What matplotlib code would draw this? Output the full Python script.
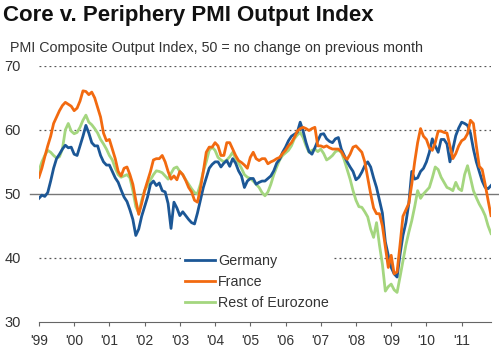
import numpy as np
import matplotlib
matplotlib.use("Agg")
import matplotlib.pyplot as plt

plt.rcParams['font.family'] = ['Liberation Sans', 'DejaVu Sans']

# monthly readings, Jan 1999 .. Nov 2011
germany = [
    49.3, 49.8, 49.6, 50.2, 52.0, 54.0, 55.5, 56.2, 57.0, 57.6, 57.2, 57.3,   # 1999
    56.2, 56.0, 57.5, 59.0, 60.7, 59.5, 58.0, 57.5, 57.5, 56.0, 55.0, 54.5,   # 2000
    54.5, 53.5, 52.5, 51.8, 50.6, 49.5, 48.8, 47.5, 46.0, 43.5, 44.5, 46.5,   # 2001
    48.0, 49.5, 51.5, 52.0, 51.3, 51.7, 50.5, 50.3, 48.5, 44.6, 48.7, 47.8,   # 2002
    46.6, 47.2, 46.6, 46.0, 45.5, 45.3, 47.0, 49.0, 51.0, 52.5, 54.0, 54.6,   # 2003
    55.0, 55.0, 54.2, 54.8, 55.2, 54.3, 55.5, 54.8, 53.6, 52.8, 51.0, 52.0,   # 2004
    52.4, 52.4, 51.5, 51.8, 52.0, 52.0, 52.4, 52.8, 53.6, 54.8, 55.4, 56.5,   # 2005
    57.3, 58.3, 59.0, 59.3, 59.6, 61.2, 59.8, 58.0, 56.6, 56.2, 57.2, 58.3,   # 2006
    59.3, 59.4, 58.6, 58.2, 58.0, 58.6, 58.8, 57.0, 56.0, 55.0, 54.2, 53.5,   # 2007
    52.2, 52.6, 53.4, 54.4, 55.0, 54.2, 52.5, 51.0, 49.0, 47.0, 42.5, 40.4,   # 2008
    38.5, 37.5, 37.0, 40.5, 43.5, 45.5, 48.5, 53.5, 52.3, 52.5, 53.5, 54.0,   # 2009
    55.0, 56.5, 58.6, 57.5, 56.5, 58.5, 58.5, 57.8, 55.0, 57.0, 59.1, 60.3,   # 2010
    61.2, 61.0, 60.7, 59.5, 57.0, 55.0, 53.5, 52.0, 51.0, 50.8, 51.3,         # 2011
]
france = [
    52.6, 54.0, 55.8, 57.5, 59.0, 61.0, 62.0, 63.0, 63.8, 64.3, 64.0, 63.7,
    63.0, 63.4, 64.5, 66.1, 66.0, 65.5, 65.9, 65.0, 63.5, 62.0, 59.5, 58.3,
    58.5, 57.0, 55.5, 53.5, 52.8, 54.0, 54.2, 53.0, 51.5, 49.0, 46.8, 48.5,
    50.5, 52.0, 53.5, 55.3, 55.5, 55.5, 56.0, 55.0, 53.5, 52.3, 52.8, 52.2,
    53.5, 53.0, 52.1, 51.0, 50.3, 49.0, 48.7, 50.8, 53.5, 56.5, 57.3, 57.3,
    58.0, 57.5, 56.0, 56.0, 58.0, 58.0, 57.0, 56.0, 55.2, 54.9, 54.5, 54.0,
    55.7, 56.5, 55.5, 55.2, 55.5, 55.5, 54.7, 55.0, 55.2, 55.5, 55.7, 56.3,
    56.8, 57.5, 58.0, 58.8, 59.8, 60.2, 60.4, 60.2, 59.9, 60.2, 60.4, 57.5,
    57.5, 57.3, 57.5, 57.2, 57.0, 57.0, 57.0, 56.6, 55.8, 55.4, 56.2, 57.3,
    57.5, 57.0, 56.5, 55.0, 52.5, 50.0, 47.8, 46.9, 46.9, 45.0, 41.8, 38.5,
    40.4, 37.5, 37.8, 42.0, 46.5, 47.5, 48.5, 51.5, 55.0, 58.0, 60.2, 59.0,
    58.5, 57.2, 56.8, 58.0, 59.8, 59.8, 59.6, 59.5, 57.5, 55.5, 56.3, 57.5,
    58.3, 58.6, 59.4, 61.5, 61.0, 57.5, 54.3, 53.8, 51.5, 49.0, 46.6,
]
rest_ez = [
    53.6, 55.0, 56.0, 56.8, 56.5, 56.0, 55.6, 55.8, 57.0, 60.0, 61.0, 59.8,
    59.4, 59.6, 60.4, 61.5, 62.3, 61.2, 60.8, 60.2, 59.5, 58.5, 57.8, 57.0,
    56.0, 55.3, 54.0, 53.0, 52.6, 52.8, 53.0, 52.5, 50.5, 48.0, 47.0, 49.0,
    50.5, 51.3, 52.2, 53.0, 53.6, 53.5, 53.3, 52.8, 52.3, 53.2, 54.0, 54.2,
    53.5, 53.0, 52.2, 51.5, 50.8, 50.2, 50.0, 51.5, 53.5, 55.0, 56.8, 57.3,
    56.8, 55.7, 55.3, 55.0, 55.3, 55.8, 56.5, 55.5, 54.8, 54.0, 53.0, 52.6,
    52.4, 52.0, 51.5, 51.0, 50.2, 49.7, 50.3, 51.5, 53.0, 54.2, 55.3, 56.0,
    56.4, 56.8, 57.5, 58.6, 59.2, 59.6, 58.8, 57.5, 56.5, 56.8, 57.0, 56.6,
    57.0, 56.3, 55.3, 55.6, 56.0, 56.6, 56.8, 56.5, 55.3, 53.8, 52.3, 50.5,
    49.0, 48.0, 47.9, 47.2, 46.4, 44.5, 43.2, 45.5, 42.0, 39.0, 34.8, 35.5,
    35.9, 35.0, 34.6, 37.0, 39.5, 42.0, 44.0, 45.8, 48.0, 50.5, 49.3, 50.0,
    50.5, 51.0, 52.5, 54.2, 53.8, 52.6, 51.8, 51.0, 50.8, 50.5, 51.8, 50.8,
    50.5, 53.0, 54.4, 52.5, 50.5, 49.4, 48.4, 47.6, 46.6, 45.0, 43.8,
]
years = list(range(1999, 2012))
year_labels = ["'%02d" % (y % 100) for y in years]

t = 1999 + np.arange(len(germany)) / 12.0

fig = plt.figure(figsize=(4.99, 3.6), dpi=100)
ax = fig.add_axes([0.078, 0.106, 0.906, 0.711])

ax.plot(t, rest_ez, color='#a4d67f', lw=2.0, label='Rest of Eurozone', zorder=3)
ax.plot(t, germany, color='#1c5796', lw=2.0, label='Germany', zorder=4)
ax.plot(t, france, color='#f26a10', lw=2.0, label='France', zorder=5)

for v in (40, 60, 70):
    ax.axhline(v, color='#555555', lw=0.9, ls=(0, (1.5, 2.5)), zorder=1)
ax.axhline(50, xmin=-0.02, xmax=1.018, color='#777777', lw=1.0, clip_on=False, zorder=2)

ax.set_xlim(1999, t[-1])
ax.set_ylim(30, 70)
ax.set_yticks([30, 40, 50, 60, 70])
ax.set_xticks(years)
ax.set_xticklabels(year_labels)

for s in ('left', 'right', 'top'):
    ax.spines[s].set_visible(False)
ax.spines['bottom'].set_color('#666666')
ax.tick_params(axis='y', length=0, pad=13, labelsize=10.5, labelcolor='#333333')
ax.tick_params(axis='x', length=3, color='#666666', pad=6, labelsize=10, labelcolor='#333333')

h, l = ax.get_legend_handles_labels()
order = [1, 2, 0]
leg = ax.legend([h[i] for i in order], [l[i] for i in order], loc='lower left',
                bbox_to_anchor=(0.298, 0.0), frameon=True, fontsize=10.3,
                handlelength=2.1, handletextpad=0.2, labelspacing=0.5,
                borderpad=0.3, labelcolor='#333333')
leg.get_frame().set_facecolor('white')
leg.get_frame().set_edgecolor('none')
leg.get_frame().set_alpha(1)
leg.set_zorder(6)

fig.text(0.006, 0.958, 'Core v. Periphery PMI Output Index', fontsize=16,
         fontweight='bold', ha='left', va='center', color='#111111')
fig.text(0.02, 0.868, 'PMI Composite Output Index, 50 = no change on previous month',
         fontsize=10.3, ha='left', va='center', color='#333333')

fig.savefig('out.png', dpi=100)
